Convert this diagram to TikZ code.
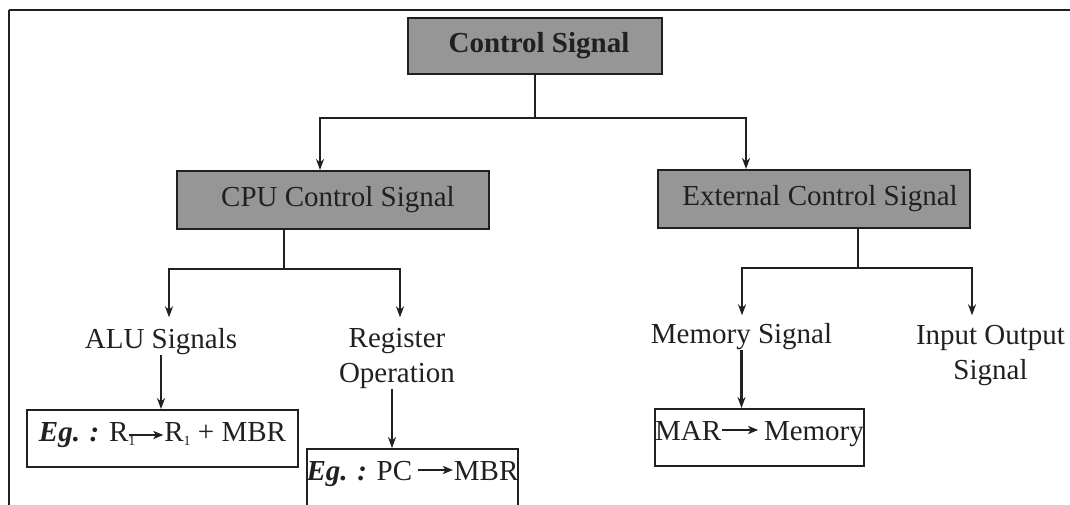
\documentclass[tikz,border=0pt]{standalone}
\usepackage{fontspec}
\setmainfont{Liberation Serif}
\usetikzlibrary{arrows.meta}

\definecolor{ink}{RGB}{35,31,32}
\definecolor{boxgray}{RGB}{150,150,150}

% small in-line arrow used inside the example boxes: #1 = length, #2 = height above baseline
\newcommand{\sigto}[2]{%
  \tikz[baseline=0pt,x=1pt,y=1pt]\draw[ink,line width=2pt,line cap=butt,
    -{Stealth[length=10pt,width=8pt,inset=2.5pt]}] (0,#2) -- (#1,#2);}
\newcommand{\subone}{\raisebox{-4pt}{\fontsize{14}{14}\selectfont 1}}

\begin{document}
\begin{tikzpicture}[x=1pt,y=-1pt,
  every node/.style={font=\fontsize{29}{35}\selectfont, text=ink},
  wire/.style={draw=ink, line width=2.1pt},
  tip/.style={-{Stealth[length=11pt,width=8pt,inset=3.5pt]}},
  bothtips/.style={{Stealth[length=11pt,width=8pt,inset=3.5pt]}-{Stealth[length=11pt,width=8pt,inset=3.5pt]}},
  graybox/.style={draw=ink, fill=boxgray, line width=2pt, inner sep=0pt},
  lbl/.style={anchor=north, inner sep=0pt, align=center},
  egbox/.style={draw=ink, line width=1.9pt, inner xsep=0pt, inner ysep=0pt,
    minimum height=57pt, text height=20pt, text depth=15pt}]

\useasboundingbox (0,0) rectangle (1070,504);
\clip (0,0) rectangle (1070,504);

% outer frame (continues past the right and bottom edges)
\draw[wire] (9,10) -- (1200,10);
\draw[wire] (9,10) -- (9,600);

% boxes
\node[graybox, minimum width=254pt, minimum height=56pt] (ctrl) at (535,46)
  {\hspace*{8pt}\bfseries Control Signal};
\node[graybox, minimum width=312pt, minimum height=58pt] (cpu) at (333,200)
  {\hspace*{10pt}CPU Control Signal};
\node[graybox, minimum width=312pt, minimum height=58pt] (ext) at (814,199)
  {\hspace*{12pt}External Control Signal};

% signal labels
\node[lbl] (alu) at (161,328.3) {ALU Signals};
\node[lbl] (reg) at (397,328.3) {Register\\Operation};
\node[lbl] (mem) at (741.5,323.3) {Memory Signal};
\node[lbl] (io)  at (990.5,325.3) {Input Output\\Signal};

% example boxes
\node[egbox, minimum width=271pt] (aluex) at (162.5,438.5)
  {\textbf{\textit{Eg. :}} R\subone\kern-7pt\sigto{34}{6}R\subone{} + MBR};
\node[egbox, minimum width=209pt] (regex) at (412.5,477.5)
  {\textbf{\textit{Eg. :}} PC\,\sigto{35}{10}MBR};
\node[egbox, minimum width=209pt] (memex) at (759.5,437.5)
  {MAR\sigto{36}{10}\,Memory};

% branch points
\coordinate (xa) at (320,118);
\coordinate (xb) at (746,118);
\coordinate (cx) at (284,269);
\coordinate (ya) at (169,269);
\coordinate (yb) at (400,269);
\coordinate (ex) at (858,268);
\coordinate (za) at (742,268);
\coordinate (zb) at (972,268);
\coordinate (rx) at (392,0);

% level 1
\draw[wire] (ctrl.south) -- (ctrl.south |- xa);
\draw[wire, bothtips] (xa |- cpu.north) -- (xa) -- (xb) -- (xb |- ext.north);

% CPU branch
\draw[wire] (cx |- cpu.south) -- (cx);
\draw[wire, bothtips, shorten <=11pt, shorten >=11pt]
  (ya |- alu.north) -- (ya) -- (yb) -- (yb |- reg.north);

% external branch
\draw[wire] (ex |- ext.south) -- (ex);
\draw[wire, bothtips, shorten <=8pt, shorten >=10pt]
  (za |- mem.north) -- (za) -- (zb) -- (zb |- io.north);

% examples
\draw[wire, tip] (alu.south) -- (alu.south |- aluex.north);
\draw[wire, tip] (rx |- reg.south) -- (rx |- regex.north);
\draw[wire, tip] (mem.south) -- (mem.south |- memex.north);

\end{tikzpicture}
\end{document}
